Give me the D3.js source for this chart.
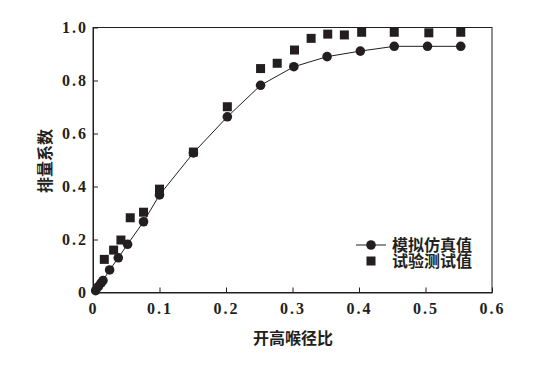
<!DOCTYPE html>
<html lang="zh">
<head>
<meta charset="UTF-8">
<title>排量系数</title>
<script src="https://d3js.org/d3.v7.min.js"></script>
<style>
  body { margin: 0; background: #fff; }
  .cjk { font-family: "Noto Sans CJK SC", sans-serif; font-weight: bold; font-size: 16px; fill: #231f20; }
</style>
</head>
<body>
<svg id="chart" width="545" height="366"></svg>
<script>
// 模拟仿真值
let simX = [0.004, 0.008, 0.012, 0.015, 0.025, 0.038, 0.052, 0.076, 0.1, 0.151, 0.202, 0.252, 0.302, 0.352, 0.402, 0.453, 0.503, 0.553]
let simY = [0.007, 0.022, 0.035, 0.045, 0.085, 0.131, 0.182, 0.267, 0.368, 0.527, 0.663, 0.782, 0.852, 0.890, 0.911, 0.929, 0.929, 0.929]
// 试验测试值
let testX = [0.017, 0.031, 0.042, 0.056, 0.076, 0.1, 0.151, 0.202, 0.252, 0.277, 0.303, 0.328, 0.353, 0.378, 0.404, 0.453, 0.505, 0.553]
let testY = [0.125, 0.160, 0.198, 0.282, 0.303, 0.390, 0.530, 0.701, 0.845, 0.865, 0.915, 0.959, 0.975, 0.972, 0.982, 0.982, 0.980, 0.982]

let xTicks = [0, 0.1, 0.2, 0.3, 0.4, 0.5, 0.6]
let yTicks = [0, 0.2, 0.4, 0.6, 0.8, 1.0]
let legendLabels = ["模拟仿真值", "试验测试值"]

let ink = "#231f20"
let mLeft = 93, mRight = 492, mTop = 27.5, mBottom = 292.5

let svg = d3.select("#chart")
let x = d3.scaleLinear().domain([0, 0.6]).range([mLeft, mRight])
let y = d3.scaleLinear().domain([0, 1.0]).range([mBottom, mTop])

function fmt(d) { return d === 0 ? "0" : d.toFixed(1) }

// frame
svg.append("rect")
    .attr("x", mLeft).attr("y", mTop)
    .attr("width", mRight - mLeft).attr("height", mBottom - mTop)
    .attr("fill", "none").attr("stroke", ink).attr("stroke-width", 1)

svg.append("g")
    .attr("class", "axis")
    .attr("transform", `translate(0,${mBottom})`)
    .call(d3.axisBottom(x).tickValues(xTicks).tickFormat(fmt).tickSizeInner(-5).tickSizeOuter(0).tickPadding(10))
svg.append("g")
    .attr("class", "axis")
    .attr("transform", `translate(${mLeft},0)`)
    .call(d3.axisLeft(y).tickValues(yTicks).tickFormat(fmt).tickSizeInner(-5).tickSizeOuter(0).tickPadding(5))
svg.selectAll(".domain").attr("stroke", ink)
svg.selectAll(".tick line").attr("stroke", ink)
svg.selectAll(".axis")
    .attr("font-family", "'Liberation Serif', serif")
    .attr("font-size", 16)
    .attr("font-weight", "bold")
svg.selectAll(".tick text")
    .attr("fill", ink)
    .style("letter-spacing", "2px")

// simulation line and circles
let sim = simX.map((d, i) => [d, simY[i]])
let test = testX.map((d, i) => [d, testY[i]])

svg.append("path")
    .datum(sim)
    .attr("d", d3.line().x(d => x(d[0])).y(d => y(d[1])))
    .attr("fill", "none").attr("stroke", ink).attr("stroke-width", 1)

svg.append("g").selectAll("rect")
    .data(test)
    .enter()
    .append("rect")
    .attr("x", d => x(d[0]) - 4.5).attr("y", d => y(d[1]) - 4.5)
    .attr("width", 9).attr("height", 9)
    .attr("fill", ink)

svg.append("g").selectAll("circle")
    .data(sim)
    .enter()
    .append("circle")
    .attr("cx", d => x(d[0])).attr("cy", d => y(d[1]))
    .attr("r", 4.8)
    .attr("fill", ink)

// legend
let lg = svg.append("g")
lg.append("line").attr("x1", 356).attr("x2", 386).attr("y1", 245).attr("y2", 245).attr("stroke", ink)
lg.append("circle").attr("cx", 371).attr("cy", 245).attr("r", 4.8).attr("fill", ink)
lg.append("rect").attr("x", 366.5).attr("y", 256.5).attr("width", 9).attr("height", 9).attr("fill", ink)
lg.selectAll("text")
    .data(legendLabels)
    .enter()
    .append("text")
    .attr("class", "cjk")
    .attr("x", 392)
    .attr("y", (d, i) => 245 + i * 16)
    .attr("dy", "0.36em")
    .text(d => d)

// axis titles
svg.append("text")
    .attr("class", "cjk")
    .attr("x", 293).attr("y", 338).attr("dy", "0.36em")
    .attr("text-anchor", "middle")
    .text("开高喉径比")
svg.append("text")
    .attr("class", "cjk")
    .attr("transform", "translate(45,161) rotate(-90)")
    .attr("dy", "0.36em")
    .attr("text-anchor", "middle")
    .text("排量系数")
</script>
</body>
</html>
